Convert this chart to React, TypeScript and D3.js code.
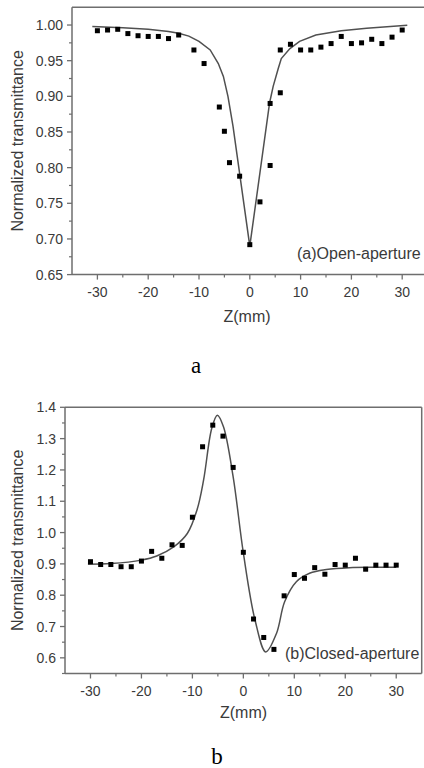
import React from 'react';
import * as d3 from 'd3';

// ---- Data: (a) open aperture ----
const openZ = [-30, -28, -26, -24, -22, -20, -18, -16, -14, -11, -9, -6, -5, -4, -2, 0, 2, 4, 4, 6, 6, 8, 10, 12, 14, 16, 18, 20, 22, 24, 26, 28, 30];
const openT = [0.992, 0.993, 0.994, 0.988, 0.985, 0.984, 0.984, 0.981, 0.986, 0.965, 0.946, 0.885, 0.851, 0.807, 0.788, 0.692, 0.752, 0.803, 0.890, 0.905, 0.965, 0.973, 0.965, 0.965, 0.969, 0.974, 0.984, 0.974, 0.975, 0.980, 0.974, 0.983, 0.993];
const openFitZ = [-31, -25, -20, -16, -14, -12, -10, -7.8, -6.2, -5.2, -4.3, -3.3, 0, 3.9, 4.6, 5.6, 6.2, 7.9, 9.8, 13, 18, 23, 31];
const openFitT = [0.9978, 0.9962, 0.994, 0.991, 0.9885, 0.9845, 0.977, 0.965, 0.946, 0.928, 0.9, 0.858, 0.69, 0.891, 0.914, 0.939, 0.953, 0.967, 0.977, 0.986, 0.992, 0.9955, 0.9996];

// ---- Data: (b) closed aperture ----
const closedZ = [-30, -28, -26, -24, -22, -20, -18, -16, -14, -12, -10, -8, -6, -4, -2, 0, 2, 4, 6, 8, 10, 12, 14, 16, 18, 20, 22, 24, 26, 28, 30];
const closedT = [0.907, 0.898, 0.898, 0.891, 0.891, 0.909, 0.940, 0.918, 0.961, 0.959, 1.049, 1.274, 1.343, 1.308, 1.208, 0.937, 0.724, 0.665, 0.627, 0.798, 0.866, 0.854, 0.888, 0.867, 0.898, 0.896, 0.918, 0.883, 0.896, 0.896, 0.896];
const closedFitZ = [-30.5, -26, -20, -17, -13.6, -11, -9.1, -7.8, -6.2, -5.1, -3.9, -2, 0, 2.3, 4.4, 6.5, 8.1, 10.4, 13, 16.3, 20.8, 26, 30];
const closedFitT = [0.899, 0.901, 0.912, 0.925, 0.955, 0.997, 1.072, 1.168, 1.333, 1.375, 1.338, 1.178, 0.935, 0.72, 0.619, 0.678, 0.779, 0.843, 0.87, 0.882, 0.888, 0.889, 0.889];

// ---- Tick labels ----
const xTicks = [-30, -20, -10, 0, 10, 20, 30];
const xMinor = [-25, -15, -5, 5, 15, 25];
const openYTicks = [0.65, 0.7, 0.75, 0.8, 0.85, 0.9, 0.95, 1.0];
const openYMinor = [0.675, 0.725, 0.775, 0.825, 0.875, 0.925, 0.975];
const closedYTicks = [0.6, 0.7, 0.8, 0.9, 1.0, 1.1, 1.2, 1.3, 1.4];
const closedYMinor = [0.55, 0.65, 0.75, 0.85, 0.95, 1.05, 1.15, 1.25, 1.35];

const AXIS = '#6e6e6e';
const TXT = '#3a3a3a';
const SANS = 'Liberation Sans, Arial, sans-serif';

type PanelProps = {
  left: number; right: number; top: number; bottom: number;
  yDomain: [number, number];
  yTicks: number[]; yMinor: number[]; yDigits: number;
  z: number[]; t: number[]; fitZ: number[]; fitT: number[];
  curve: any;
  label: string; labelX: number; labelY: number;
  zLabelX: number; zLabelY: number; titleX: number;
};

function Panel(p: PanelProps) {
  const x = d3.scaleLinear().domain([-35, 35]).range([p.left, p.right]);
  const y = d3.scaleLinear().domain(p.yDomain).range([p.bottom, p.top]);
  const line = d3.line<number>().x((d, i) => x(p.fitZ[i])).y((d) => y(d)).curve(p.curve);
  const fitPath = line(p.fitT) || '';
  const titleY = (p.top + p.bottom) / 2;
  return (
    <g>
      {/* frame */}
      <line x1={p.left} x2={p.right} y1={p.top} y2={p.top} stroke={AXIS} strokeWidth={1.5} />
      <line x1={p.right} x2={p.right} y1={p.top} y2={p.bottom} stroke={AXIS} strokeWidth={1.5} />
      <line x1={p.left} x2={p.right} y1={p.bottom} y2={p.bottom} stroke={AXIS} strokeWidth={1.5} />
      <line x1={p.left} x2={p.left} y1={p.top} y2={p.bottom} stroke={AXIS} strokeWidth={1.5} />
      {/* x ticks */}
      {xTicks.map((v) => (
        <g key={'xt' + v}>
          <line x1={x(v)} x2={x(v)} y1={p.bottom} y2={p.bottom + 5} stroke={AXIS} strokeWidth={1.3} />
          <text x={x(v)} y={p.bottom + 22} textAnchor="middle" fontFamily={SANS} fontSize={14} fill={TXT}>{v}</text>
        </g>
      ))}
      {xMinor.map((v) => (
        <line key={'xm' + v} x1={x(v)} x2={x(v)} y1={p.bottom} y2={p.bottom + 3} stroke={AXIS} strokeWidth={1.2} />
      ))}
      {/* y ticks */}
      {p.yTicks.map((v) => (
        <g key={'yt' + v}>
          <line x1={p.left - 5} x2={p.left} y1={y(v)} y2={y(v)} stroke={AXIS} strokeWidth={1.3} />
          <text x={p.left - 9} y={y(v) + 5} textAnchor="end" fontFamily={SANS} fontSize={14} fill={TXT}>{v.toFixed(p.yDigits)}</text>
        </g>
      ))}
      {p.yMinor.map((v) => (
        <line key={'ym' + v} x1={p.left - 3} x2={p.left} y1={y(v)} y2={y(v)} stroke={AXIS} strokeWidth={1.2} />
      ))}
      {/* fit */}
      <path d={fitPath} fill="none" stroke="#505050" strokeWidth={1.5} />
      {/* points */}
      {p.t.map((v, i) => (
        <rect key={'p' + i} x={x(p.z[i]) - 2.5} y={y(v) - 2.5} width={5} height={5} fill="#000" />
      ))}
      {/* titles */}
      <text transform={`translate(${p.titleX},${titleY}) rotate(-90)`} textAnchor="middle" fontFamily={SANS} fontSize={16} fill={TXT}>Normalized transmittance</text>
      <text x={p.zLabelX} y={p.zLabelY} textAnchor="middle" fontFamily={SANS} fontSize={16} fill={TXT}>Z(mm)</text>
      <text x={p.labelX} y={p.labelY} fontFamily={SANS} fontSize={16} fill={TXT}>{p.label}</text>
    </g>
  );
}

export default function App() {
  return (
    <svg width={424} height={768} style={{ position: 'absolute', left: 0, top: 0, background: '#fff' }}>
      <rect x={0} y={0} width={424} height={768} fill="#fff" />
      <Panel
        left={72} right={427.6} top={7.2} bottom={274.6}
        yDomain={[0.65, 1.025]} yTicks={openYTicks} yMinor={openYMinor} yDigits={2}
        z={openZ} t={openT} fitZ={openFitZ} fitT={openFitT} curve={d3.curveLinear}
        label="(a)Open-aperture" labelX={297} labelY={259}
        zLabelX={247} zLabelY={322} titleX={22.5}
      />
      <text x={196} y={373} textAnchor="middle" fontFamily="Liberation Serif, Times New Roman, serif" fontSize={23} fill="#000">a</text>
      <Panel
        left={65} right={421.7} top={407.3} bottom={673.5}
        yDomain={[0.55, 1.4]} yTicks={closedYTicks} yMinor={closedYMinor} yDigits={1}
        z={closedZ} t={closedT} fitZ={closedFitZ} fitT={closedFitT} curve={d3.curveCatmullRom.alpha(0.5)}
        label="(b)Closed-aperture" labelX={285} labelY={659}
        zLabelX={243.5} zLabelY={717.5} titleX={22.5}
      />
      <text x={217} y={764} textAnchor="middle" fontFamily="Liberation Serif, Times New Roman, serif" fontSize={23} fill="#000">b</text>
    </svg>
  );
}
